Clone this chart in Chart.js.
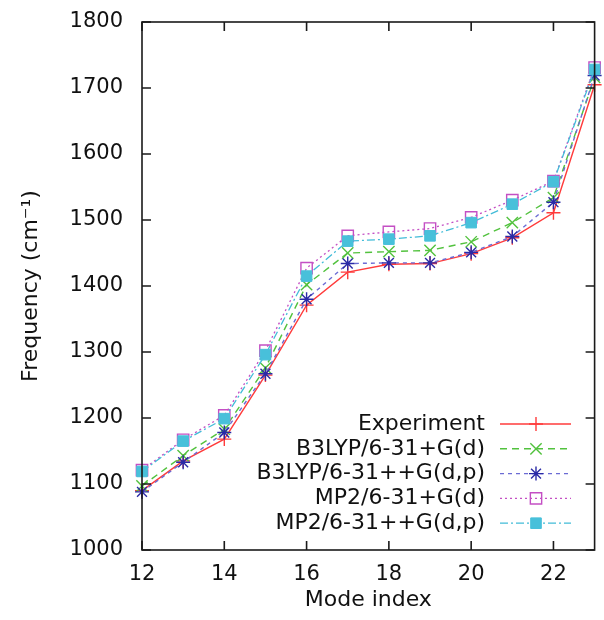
<!DOCTYPE html>
<html>
<head>
<meta charset="utf-8">
<script src="https://cdn.jsdelivr.net/npm/chart.js@4/dist/chart.umd.min.js"></script>
<style>
  html, body { margin: 0; padding: 0; background: #fff; }
  canvas { display: block; }
</style>
</head>
<body>
<canvas id="c" width="604" height="620"></canvas>
<script>
// ---- data ----
const modes = [12, 13, 14, 15, 16, 17, 18, 19, 20, 21, 22, 23];
const experiment   = [1090, 1135, 1168, 1265, 1371, 1421, 1433, 1434, 1449, 1473, 1511, 1705];
const b3lypD       = [1097, 1143, 1183, 1276, 1402, 1450, 1452, 1454, 1467, 1496, 1534, 1716];
const b3lypDP      = [1088, 1133, 1178, 1267, 1380, 1434, 1435, 1435, 1451, 1475, 1527, 1719];
const mp2D         = [1121, 1167, 1204, 1302, 1427, 1476, 1482, 1487, 1504, 1530, 1559, 1731];
const mp2DP        = [1119, 1165, 1199, 1296, 1415, 1468, 1471, 1476, 1496, 1524, 1558, 1728];
const seriesLabels = ['Experiment', 'B3LYP/6-31+G(d)', 'B3LYP/6-31++G(d,p)', 'MP2/6-31+G(d)', 'MP2/6-31++G(d,p)'];
const xTicks = [12, 14, 16, 18, 20, 22];
const yTicks = [1000, 1100, 1200, 1300, 1400, 1500, 1600, 1700, 1800];
const xTitle = 'Mode index';
const yTitle = 'Frequency (cm\u207B\u00B9)';

const FONT = '"DejaVu Sans", "Liberation Sans", sans-serif';
const pts = vals => modes.map((m, i) => ({ x: m, y: vals[i] }));

const datasets = [
  { label: seriesLabels[0], data: pts(experiment), borderColor: '#ff3b3b', borderWidth: 1.4, borderDash: [],
    pointStyle: 'cross', pointRadius: 7, pointBorderColor: '#ff3b3b', pointBackgroundColor: '#ff3b3b', pointBorderWidth: 1.4, order: 5 },
  { label: seriesLabels[1], data: pts(b3lypD), borderColor: '#52c23e', borderWidth: 1.4, borderDash: [7, 5],
    pointStyle: 'crossRot', pointRadius: 8, pointBorderColor: '#52c23e', pointBackgroundColor: '#52c23e', pointBorderWidth: 1.4, order: 4 },
  { label: seriesLabels[2], data: pts(b3lypDP), borderColor: '#6b6bd4', borderWidth: 1.4, borderDash: [4, 4],
    pointStyle: 'star', pointRadius: 7, pointBorderColor: '#2a2aa6', pointBackgroundColor: '#2a2aa6', pointBorderWidth: 1.4, order: 3 },
  { label: seriesLabels[3], data: pts(mp2D), borderColor: '#c44fc4', borderWidth: 1.3, borderDash: [2, 3],
    pointStyle: 'rect', pointRadius: 8, pointBorderColor: '#c44fc4', pointBackgroundColor: 'rgba(0,0,0,0)', pointBorderWidth: 1.4, order: 2 },
  { label: seriesLabels[4], data: pts(mp2DP), borderColor: '#42bcd8', borderWidth: 1.3, borderDash: [8, 3, 2, 3],
    pointStyle: 'rect', pointRadius: 7.5, pointBorderColor: '#48c0da', pointBackgroundColor: '#48c0da', pointBorderWidth: 1, order: 1 }
];
datasets.forEach(d => { d.fill = false; d.tension = 0; d.clip = false; d.pointHoverRadius = d.pointRadius; });

const framePlugin = {
  id: 'frame',
  afterDatasetsDraw(chart) {
    const { ctx, chartArea: a, scales: { x, y } } = chart;
    ctx.save();
    ctx.setLineDash([]);
    ctx.strokeStyle = '#1a1a1a';
    ctx.lineWidth = 1.6;
    ctx.strokeRect(a.left, a.top, a.right - a.left, a.bottom - a.top);
    const L = 9;
    ctx.beginPath();
    yTicks.forEach(v => {
      const p = y.getPixelForValue(v);
      ctx.moveTo(a.left, p); ctx.lineTo(a.left + L, p);
      ctx.moveTo(a.right, p); ctx.lineTo(a.right - L, p);
    });
    xTicks.forEach(v => {
      const p = x.getPixelForValue(v);
      ctx.moveTo(p, a.bottom); ctx.lineTo(p, a.bottom - L);
      ctx.moveTo(p, a.top); ctx.lineTo(p, a.top + L);
    });
    ctx.stroke();
    ctx.restore();
  }
};

const legendPlugin = {
  id: 'insideLegend',
  afterDatasetsDraw(chart) {
    const ctx = chart.ctx;
    const textRight = 485, lineL = 500, lineR = 571, mX = 536, top0 = 424, step = 24.8;
    chart.data.datasets.forEach((ds, i) => {
      const yy = top0 + i * step;
      ctx.save();
      ctx.font = '22px ' + FONT;
      ctx.fillStyle = '#111';
      ctx.textAlign = 'right';
      ctx.textBaseline = 'middle';
      ctx.fillText(ds.label, textRight, yy);
      ctx.strokeStyle = ds.borderColor;
      ctx.lineWidth = ds.borderWidth;
      ctx.setLineDash(ds.borderDash || []);
      ctx.beginPath();
      ctx.moveTo(lineL, yy); ctx.lineTo(lineR, yy);
      ctx.stroke();
      ctx.setLineDash([]);
      ctx.strokeStyle = ds.pointBorderColor;
      ctx.fillStyle = ds.pointBackgroundColor;
      ctx.lineWidth = ds.pointBorderWidth;
      Chart.helpers.drawPoint(ctx, { pointStyle: ds.pointStyle, radius: ds.pointRadius, borderWidth: ds.pointBorderWidth, rotation: 0 }, mX, yy);
      ctx.restore();
    });
  }
};

new Chart(document.getElementById('c'), {
  type: 'line',
  data: { datasets },
  options: {
    responsive: false,
    devicePixelRatio: 1,
    animation: false,
    events: [],
    layout: { padding: { left: 0, right: 4, top: 22, bottom: 0 } },
    plugins: { legend: { display: false }, tooltip: { enabled: false } },
    scales: {
      x: {
        type: 'linear', min: 12, max: 23,
        afterBuildTicks: s => { s.ticks = xTicks.map(v => ({ value: v })); },
        afterFit: s => { s.height = 70; s.paddingLeft = 0; s.paddingRight = 0; },
        grid: { display: false, drawTicks: false },
        border: { display: false },
        ticks: { padding: 12, color: '#111', font: { family: FONT, size: 21 }, callback: v => String(v) },
        title: { display: true, text: xTitle, color: '#111', font: { family: FONT, size: 22 }, padding: { top: 0, bottom: 7 } }
      },
      y: {
        type: 'linear', min: 1000, max: 1800,
        afterBuildTicks: s => { s.ticks = yTicks.map(v => ({ value: v })); },
        afterFit: s => { s.width = 142; s.paddingTop = 0; s.paddingBottom = 0; },
        grid: { display: false, drawTicks: false },
        border: { display: false },
        ticks: { padding: 19, color: '#111', font: { family: FONT, size: 21 }, callback: v => String(v) },
        title: { display: true, text: yTitle, color: '#111', font: { family: FONT, size: 22 }, padding: { top: 18, bottom: 0 } }
      }
    }
  },
  plugins: [framePlugin, legendPlugin]
});
</script>
</body>
</html>
